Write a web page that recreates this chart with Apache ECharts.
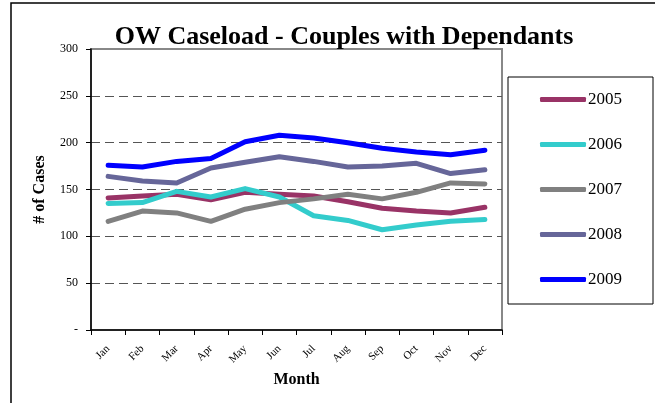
<!DOCTYPE html>
<html><head><meta charset="utf-8">
<script src="https://cdn.jsdelivr.net/npm/echarts@6/dist/echarts.min.js"></script>
<style>html,body{margin:0;padding:0;background:#fff}#c{width:655px;height:403px}</style>
</head><body><div id="c"></div>
<script>
const months = ['Jan','Feb','Mar','Apr','May','Jun','Jul','Aug','Sep','Oct','Nov','Dec'];
const y2005 = [141,143,145,139,147,145,143,137,130,127,125,131];
const y2006 = [135,136,148,142,151,142,122,117,107,112,116,118];
const y2007 = [116,127,125,116,129,136,140,145,140,147,157,156];
const y2008 = [164,159,157,173,179,185,180,174,175,178,167,171];
const y2009 = [176,174,180,183,201,208,205,200,194,190,187,192];
const yTicks = [0,50,100,150,200,250,300];
const names = ['2005','2006','2007','2008','2009'];
const colors = ['#993366','#33CCCC','#808080','#666699','#0000FF'];
const data = [y2005,y2006,y2007,y2008,y2009];
const serif = '"Liberation Serif","Times New Roman",serif';
const chart = echarts.init(document.getElementById('c'), null, {renderer:'canvas'});
chart.setOption({
  animation:false,
  backgroundColor:'#fff',
  title:{text:'OW Caseload - Couples with Dependants',left:339,textAlign:'center',top:19,
    textStyle:{fontFamily:serif,fontWeight:'bold',fontSize:26,color:'#000'}},
  graphic:[{type:'rect',shape:{x:11,y:3,width:700,height:500},style:{fill:'none',stroke:'#000',lineWidth:1.5},silent:true}],
  grid:{left:91,top:49,right:153,bottom:73,show:true,borderColor:'#888',borderWidth:2,backgroundColor:'#fff'},
  legend:{orient:'vertical',left:508,top:77,padding:[14,31,16,32],itemGap:28,itemWidth:46,itemHeight:5,
    icon:'roundRect',borderColor:'#000',borderWidth:1,data:names,
    textStyle:{fontFamily:serif,fontSize:17,color:'#000',padding:[0,0,0,-3]}},
  xAxis:{type:'category',data:months,boundaryGap:true,
    name:'Month',nameLocation:'middle',nameGap:42,
    nameTextStyle:{fontFamily:serif,fontWeight:'bold',fontSize:16,color:'#000'},
    axisLine:{lineStyle:{color:'#000',width:1.5}},
    axisTick:{show:true,alignWithLabel:false,length:5,lineStyle:{color:'#000'}},
    axisLabel:{rotate:45,fontFamily:serif,fontSize:11,color:'#000',margin:17,interval:0},
    splitLine:{show:false}},
  yAxis:{type:'value',min:yTicks[0],max:yTicks[yTicks.length-1],interval:50,
    name:'# of Cases',nameLocation:'middle',nameGap:43,
    nameTextStyle:{fontFamily:serif,fontWeight:'bold',fontSize:16,color:'#000'},
    axisLine:{show:true,lineStyle:{color:'#000',width:1.5}},
    axisTick:{show:true,length:5,lineStyle:{color:'#000'}},
    axisLabel:{fontFamily:serif,fontSize:12,color:'#000',margin:13,formatter:v=>v===0?'-':String(v)},
    splitLine:{show:true,showMinLine:false,showMaxLine:false,lineStyle:{color:'#555',type:[9,5],width:1}}},
  series:names.map((n,i)=>({name:n,type:'line',data:data[i],showSymbol:false,symbol:'none',
    lineStyle:{color:colors[i],width:5,cap:'round',join:'round'},itemStyle:{color:colors[i]}}))
});
</script></body></html>
